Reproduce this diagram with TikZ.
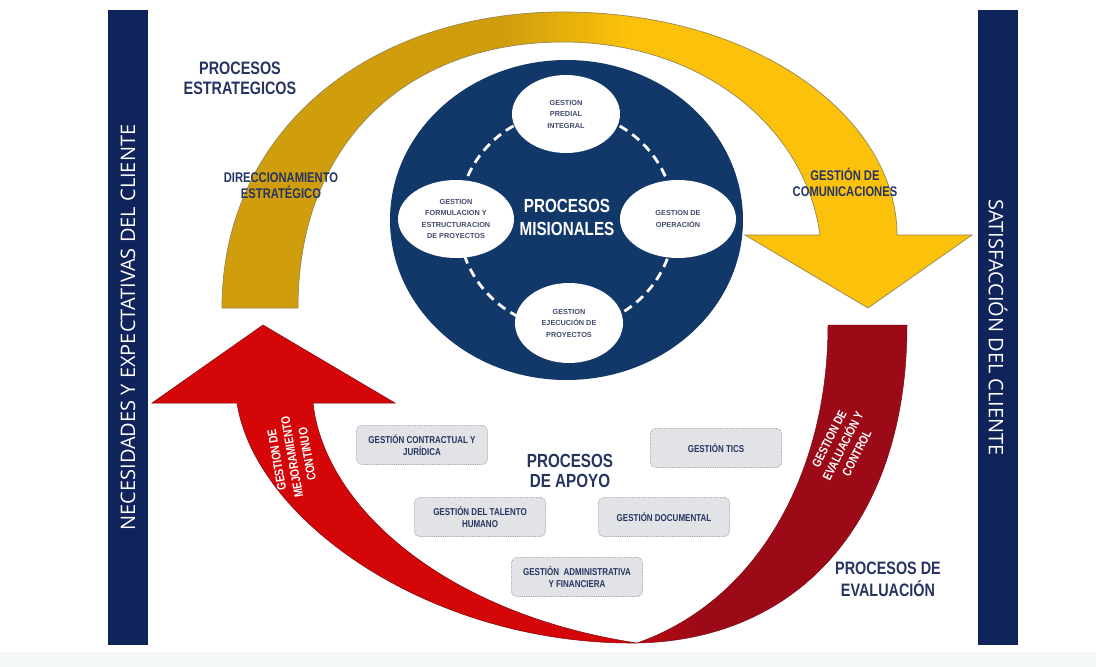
\documentclass[tikz,border=0pt]{standalone}
\usepackage{fontspec}
\setmainfont{Liberation Sans}
\newfontfamily\narrowsans[FakeStretch=0.8]{Liberation Sans}
\newfontfamily\barsans{Open Sans}
\usetikzlibrary{shapes.geometric}

\definecolor{barnavy}{RGB}{16,36,92}
\definecolor{discnavy}{RGB}{18,56,106}
\definecolor{labnavy}{RGB}{38,52,96}
\definecolor{ovaltext}{RGB}{66,76,108}
\definecolor{goldL}{RGB}{208,158,12}
\definecolor{goldR}{RGB}{252,193,10}
\definecolor{goldedge}{RGB}{150,135,80}
\definecolor{redL}{RGB}{212,6,8}
\definecolor{redR}{RGB}{156,10,24}
\definecolor{rededge}{RGB}{120,10,20}
\definecolor{boxfill}{RGB}{226,227,231}
\definecolor{boxedge}{RGB}{160,162,170}
\definecolor{stripfill}{RGB}{244,248,249}

% left-to-right colour change of the two sweeping arrows
\pgfdeclarehorizontalshading{goldband}{100bp}{color(0bp)=(goldL); color(44bp)=(goldL); color(52bp)=(goldR); color(100bp)=(goldR)}
\pgfdeclarehorizontalshading{redband}{100bp}{color(0bp)=(redL); color(55bp)=(redL); color(61bp)=(redR); color(100bp)=(redR)}

\tikzset{
  sidebar/.style={fill=barnavy, text=white, minimum width=635pt, minimum height=40pt, inner sep=0pt, font=\barsans\fontsize{20}{24}\selectfont},
  heading/.style={text=labnavy, align=center, inner sep=0pt, font=\narrowsans\bfseries\fontsize{18}{20}\selectfont},
  sublabel/.style={text=labnavy, align=center, inner sep=0pt, font=\narrowsans\bfseries\fontsize{14}{16}\selectfont},
  oval/.style={ellipse, fill=white, inner sep=0pt, minimum width=108pt, minimum height=78pt, text=ovaltext, align=center, font=\bfseries\fontsize{7.3}{11.5}\selectfont},
  ring/.style={draw=white, line width=2.8pt, dash pattern=on 9pt off 6pt},
  supportbox/.style={rectangle, rounded corners=5pt, fill=boxfill, draw=boxedge, densely dotted, line width=0.8pt, minimum width=131pt, minimum height=39pt, inner sep=0pt, text=labnavy, align=center, font=\narrowsans\bfseries\fontsize{10}{12}\selectfont},
  arrowtext/.style={text=white, align=center, inner sep=0pt, font=\narrowsans\bfseries\fontsize{12.5}{15.5}\selectfont},
}

\begin{document}
\begin{tikzpicture}[x=1pt,y=-1pt]
\useasboundingbox (0,0) rectangle (1096,667);
\fill[white] (0,0) rectangle (1096,667);
\fill[stripfill] (0,652) rectangle (1096,667);

% upper sweep: strategic processes, ending in the arrow head
\shadedraw[shading=goldband, draw=goldedge, line width=0.7pt]
  (222,308) .. controls (222,130) and (370,12) .. (563,12)
  .. controls (760,12) and (897,120) .. (897,235)
  -- (972,235) -- (868,308) -- (745,235) -- (820,235)
  .. controls (805,125) and (700,42) .. (563,42)
  .. controls (410,42) and (298,140) .. (298,308) -- cycle;

% lower sweep: evaluation and improvement
\shadedraw[shading=redband, draw=rededge, line width=0.5pt]
  (152,403) -- (263,325) -- (395,403) -- (313,403)
  .. controls (325,510) and (450,615) .. (637,643)
  .. controls (760,600) and (828,470) .. (828,325)
  -- (907,325)
  .. controls (907,520) and (800,640) .. (637,643)
  .. controls (430,645) and (255,520) .. (237,403) -- cycle;

% side bars
\node[sidebar, rotate=90] (needs) at (128,327.5) {NECESIDADES Y EXPECTATIVAS DEL CLIENTE};
\node[sidebar, rotate=-90] (satisf) at (998,327.5) {SATISFACCIÓN DEL CLIENTE};

% core processes
\node[ellipse, fill=discnavy, minimum width=353pt, minimum height=320pt, inner sep=0pt] (disc) at (566.5,220) {};
\draw[ring] (disc.center) circle[radius=108pt];
\node[oval] (predial) at (566,114) {GESTION\\PREDIAL\\INTEGRAL};
\node[oval, minimum width=116pt] (formul) at (456,219) {GESTION\\FORMULACION Y\\ESTRUCTURACION\\DE PROYECTOS};
\node[oval, minimum width=116pt] (operac) at (678,219) {GESTION DE\\OPERACIÓN};
\node[oval, minimum height=80pt] (ejecuc) at (569,323) {GESTION\\EJECUCIÓN DE\\PROYECTOS};
\node[heading, text=white, font=\narrowsans\bfseries\fontsize{19}{23}\selectfont] (misional) at (567,217) {PROCESOS\\MISIONALES};

% labels
\node[heading] (estrat) at (240,78) {PROCESOS\\ESTRATEGICOS};
\node[sublabel] (direcc) at (281,186) {DIRECCIONAMIENTO\\ESTRATÉGICO};
\node[sublabel] (comunic) at (845,182) {GESTIÓN DE\\COMUNICACIONES};
\node[heading, font=\narrowsans\bfseries\fontsize{18}{22}\selectfont] (evalua) at (888,579) {PROCESOS DE\\EVALUACIÓN};
\node[heading, font=\narrowsans\bfseries\fontsize{19}{20}\selectfont] (apoyo) at (570,471) {PROCESOS\\DE APOYO};

% texts carried by the red arrows
\node[arrowtext, rotate=100] (mejora) at (292,457) {GESTION DE\\MEJORAMIENTO\\CONTINUO};
\node[arrowtext, rotate=63] (control) at (843,446) {GESTION DE\\EVALUACIÓN Y\\CONTROL};

% support processes
\node[supportbox] (contract) at (422,445) {GESTIÓN CONTRACTUAL Y\\JURÍDICA};
\node[supportbox] (tics) at (716,448) {GESTIÓN TICS};
\node[supportbox] (talento) at (480,517) {GESTIÓN DEL TALENTO\\HUMANO};
\node[supportbox] (document) at (664,517) {GESTIÓN DOCUMENTAL};
\node[supportbox] (admin) at (577,577) {GESTIÓN~ ADMINISTRATIVA\\Y FINANCIERA};
\end{tikzpicture}
\end{document}
